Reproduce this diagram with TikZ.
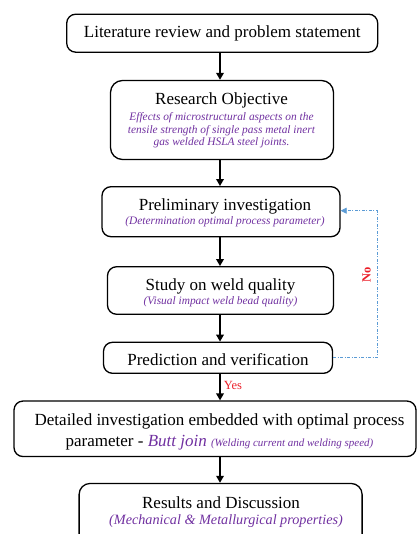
\documentclass[tikz,border=0pt]{standalone}
\usepackage{fontspec}
\setmainfont{Liberation Serif}
\usetikzlibrary{arrows.meta}
\definecolor{purp}{RGB}{112,48,160}
\definecolor{lblue}{RGB}{91,155,213}
\definecolor{rd}{RGB}{235,30,40}
\tikzset{
  box/.style={draw=black, line width=1.3pt, rounded corners=9pt, inner sep=0pt},
  ttl/.style={anchor=base, inner sep=0pt, font=\fontsize{17}{19}\selectfont},
  subt/.style={anchor=base, inner sep=0pt, text=purp, font=\fontsize{11.4}{12.5}\selectfont\itshape},
  arr/.style={line width=1.7pt, -{Triangle[length=7pt,width=7.5pt]}},
  loop/.style={lblue, line width=0.8pt, dash pattern=on 3pt off 1.5pt on 1pt off 1.5pt,
    -{Triangle[length=6pt,width=6pt]}},
  lab/.style={rd, inner sep=0pt}
}
\begin{document}
\begin{tikzpicture}[x=1pt,y=-1pt]
\useasboundingbox (0,0) rectangle (417,534);
\begin{scope}
\clip (0,0) rectangle (417,534);
\coordinate (ax) at (220,0);
% boxes
\node[box, minimum width=311pt, minimum height=38pt] (b1) at (222.2,33.2) {};
\node[box, minimum width=223pt, minimum height=79pt, rounded corners=12pt] (b2) at (222,120) {};
\node[box, minimum width=238pt, minimum height=50pt] (b3) at (221,211.7) {};
\node[box, minimum width=226pt, minimum height=47.5pt] (b4) at (220.5,290.5) {};
\node[box, minimum width=229pt, minimum height=31pt] (b5) at (218,357.8) {};
\node[box, minimum width=402pt, minimum height=55.5pt] (b6) at (215,428.8) {};
\node[box, minimum width=283pt, minimum height=62pt, anchor=north, rounded corners=11pt] (b7) at (220.6,482.8) {};
% texts
\node[ttl] (t1) at (222.2,38) {Literature review and problem statement};
\node[ttl] (t2) at (221.5,105) {Research Objective};
\node[subt] (s2a) at (221.5,121) {Effects of microstructural aspects on the};
\node[subt] (s2b) at (221.5,133.5) {tensile strength of single pass metal inert};
\node[subt] (s2c) at (221.5,146) {gas welded HSLA steel joints.};
\node[ttl] (t3) at (225,210.7) {Preliminary investigation};
\node[subt] (s3) at (225,225) {(Determination optimal process parameter)};
\node[ttl] (t4) at (220.5,290) {Study on weld quality};
\node[subt] (s4) at (220.5,304) {(Visual impact weld bead quality)};
\node[ttl] (t5) at (218,365) {Prediction and verification};
\node[ttl] (t6a) at (219.5,425.7) {Detailed investigation embedded with optimal process};
\node[ttl] (t6b) at (219.5,446) {parameter - {\itshape\color{purp}Butt join} {\fontsize{11}{12}\selectfont\itshape\color{purp}(Welding current and welding speed)}};
\node[ttl] (t7) at (221,508.3) {Results and Discussion};
\node[subt, font=\fontsize{14.2}{15}\selectfont\itshape] (s7) at (226,524) {(Mechanical \& Metallurgical properties)};
% connectors
\draw[arr] (b1.south -| ax) -- (b2.north -| ax);
\draw[arr] (b2.south -| ax) -- (b3.north -| ax);
\draw[arr] (b3.south -| ax) -- (b4.north -| ax);
\draw[arr] (b4.south -| ax) -- (b5.north -| ax);
\draw[arr] (b5.south -| ax) -- (b6.north -| ax)
  node[lab, pos=0.42, right=3pt, font=\fontsize{12.5}{14}\selectfont] (yes) {Yes};
\draw[arr] (b6.south -| ax) -- (b7.north -| ax);
\coordinate (lr) at (377,0);
\draw[loop] (b5.east) -- (b5.east -| lr) -- ([yshift=1pt]b3.east -| lr) -- ([yshift=1pt]b3.east);
\node[lab, rotate=90, font=\bfseries\fontsize{12.5}{14}\selectfont] (no) at (366.5,275) {No};
\end{scope}
\end{tikzpicture}
\end{document}
